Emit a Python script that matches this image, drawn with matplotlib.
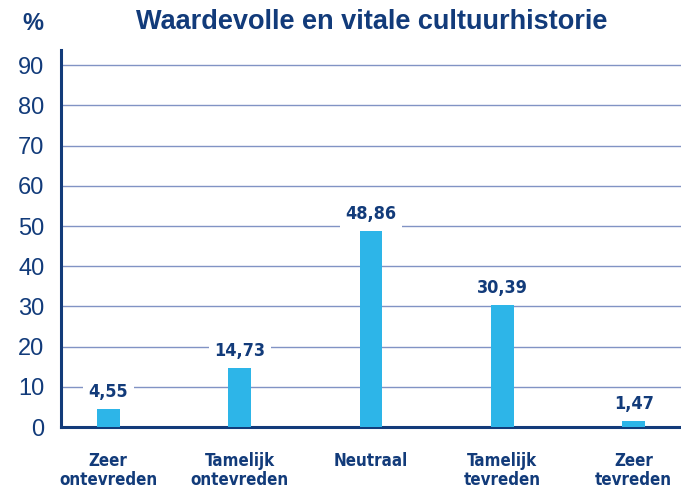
import matplotlib.pyplot as plt

NAVY = "#123b7a"
BAR = "#2db5e8"
GRID = "#8193c4"

categories = ["Zeer\nontevreden", "Tamelijk\nontevreden", "Neutraal", "Tamelijk\ntevreden", "Zeer\ntevreden"]
values = [4.55, 14.73, 48.86, 30.39, 1.47]
labels = ["4,55", "14,73", "48,86", "30,39", "1,47"]
yticks = [0, 10, 20, 30, 40, 50, 60, 70, 80, 90]

COND = dict(family="DejaVu Sans", fontstretch="condensed", fontweight="bold")

fig = plt.figure(figsize=(6.81, 4.93), dpi=100)
ax = fig.add_axes([61 / 681, 1 - 427 / 493, 1 - 61 / 681, (427 - 50) / 493])

x = list(range(len(values)))
ax.bar(x, values, width=0.175, color=BAR, zorder=3)
ax.set_xlim(-0.36, 4.36)
ax.set_ylim(0, 93.8)

ax.set_yticks(yticks)
ax.set_yticklabels([str(t) for t in yticks], fontsize=17, color=NAVY, family="Liberation Sans")
ax.tick_params(axis="y", length=0, pad=12)
ax.set_xticks(x)
ax.set_xticklabels(categories, fontsize=12.2, color=NAVY, linespacing=1.05, **COND)
ax.tick_params(axis="x", length=0, pad=18)
for t in yticks[1:]:
    ax.axhline(t, color=GRID, lw=1.0, zorder=1)

for s in ["top", "right"]:
    ax.spines[s].set_visible(False)
ax.spines["left"].set_color(NAVY)
ax.spines["left"].set_linewidth(2.2)
ax.spines["bottom"].set_color(NAVY)
ax.spines["bottom"].set_linewidth(2.2)

for xi, v, lab in zip(x, values, labels):
    ax.annotate(lab, (xi, v), xytext=(0, 17), textcoords="offset pixels",
                ha="center", va="center", fontsize=13, color=NAVY,
                bbox=dict(boxstyle="square,pad=0.3", fc="white", ec="none"), zorder=4, **COND)

fig.text(372 / 681, 1 - 22 / 493, "Waardevolle en vitale cultuurhistorie", ha="center", va="center",
         fontsize=19.5, fontweight="heavy", color=NAVY, family="Liberation Sans")
fig.text(33 / 681, 1 - 24 / 493, "%", ha="center", va="center",
         fontsize=17, fontweight="bold", color=NAVY, family="Liberation Sans")

fig.savefig("out.png", dpi=100, facecolor="white")
